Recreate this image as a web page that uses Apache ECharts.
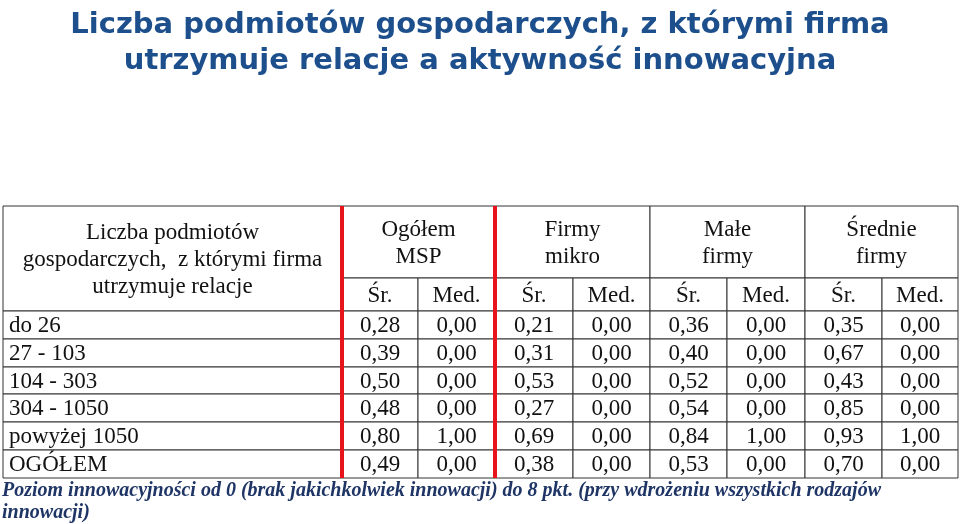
<!DOCTYPE html>
<html>
<head>
<meta charset="utf-8">
<script src="https://cdn.jsdelivr.net/npm/echarts@6/dist/echarts.min.js"></script>
<style>html,body{margin:0;padding:0;background:#fff}#chart{width:960px;height:524px}</style>
</head>
<body>
<div id="chart"></div>
<script>
// table content
var rowLabels = ['do 26', '27 - 103', '104 - 303', '304 - 1050', 'powyżej 1050', 'OGÓŁEM'];
var groups = ['Ogółem\nMSP', 'Firmy\nmikro', 'Małe\nfirmy', 'Średnie\nfirmy'];
var subHeads = ['Śr.', 'Med.'];
var mspSr = [0.28, 0.39, 0.50, 0.48, 0.80, 0.49];
var mspMed = [0.00, 0.00, 0.00, 0.00, 1.00, 0.00];
var mikroSr = [0.21, 0.31, 0.53, 0.27, 0.69, 0.38];
var mikroMed = [0.00, 0.00, 0.00, 0.00, 0.00, 0.00];
var maleSr = [0.36, 0.40, 0.52, 0.54, 0.84, 0.53];
var maleMed = [0.00, 0.00, 0.00, 0.00, 1.00, 0.00];
var srednieSr = [0.35, 0.67, 0.43, 0.85, 0.93, 0.70];
var srednieMed = [0.00, 0.00, 0.00, 0.00, 1.00, 0.00];
var cornerLabel = 'Liczba podmiotów\ngospodarczych,  z którymi firma\nutrzymuje relacje';

// layout: column edges and row edges in table units
var colEdges = [0, 339, 415, 492, 570, 647, 724, 802, 879, 955];
var rowEdges = [0, 72, 105, 133, 161, 188, 216, 244, 272];

var columns = [mspSr, mspMed, mikroSr, mikroMed, maleSr, maleMed, srednieSr, srednieMed];
function fmt(v) { return v.toFixed(2).replace('.', ','); }

var cells = [];
cells.push([colEdges[0], colEdges[1], rowEdges[0], rowEdges[2], cornerLabel, 'center', 23]);
groups.forEach(function (g, i) {
  cells.push([colEdges[1 + 2 * i], colEdges[3 + 2 * i], rowEdges[0], rowEdges[1], g, 'center', 23]);
  subHeads.forEach(function (s, j) {
    cells.push([colEdges[1 + 2 * i + j], colEdges[2 + 2 * i + j], rowEdges[1], rowEdges[2], s, 'center', 23]);
  });
});
rowLabels.forEach(function (r, ri) {
  cells.push([colEdges[0], colEdges[1], rowEdges[2 + ri], rowEdges[3 + ri], r, 'left', 23]);
  columns.forEach(function (col, ci) {
    cells.push([colEdges[1 + ci], colEdges[2 + ci], rowEdges[2 + ri], rowEdges[3 + ri], fmt(col[ri]), 'center', 23]);
  });
});

var chart = echarts.init(document.getElementById('chart'));
chart.setOption({
  animation: false,
  title: {
    text: 'Liczba podmiotów gospodarczych, z którymi firma\nutrzymuje relacje a aktywność innowacyjna',
    left: 'center', top: 2,
    textStyle: { fontFamily: 'DejaVu Sans', fontWeight: 'bold', fontSize: 29, lineHeight: 36, color: '#1d4f8c', align: 'center' }
  },
  grid: { left: 3, right: 2, top: 206, bottom: 46 },
  xAxis: { type: 'value', min: 0, max: 955, show: false },
  yAxis: { type: 'value', min: 0, max: 272, inverse: true, show: false },
  graphic: [{
    type: 'text', left: 2, top: 480,
    style: {
      text: 'Poziom innowacyjności od 0 (brak jakichkolwiek innowacji) do 8 pkt. (przy wdrożeniu wszystkich rodzajów\ninnowacji)',
      font: 'italic bold 20px "Liberation Serif"', fill: '#1f3566', lineHeight: 22
    }
  }],
  series: [{
    type: 'custom',
    coordinateSystem: 'cartesian2d',
    data: cells,
    encode: { x: [0, 1], y: [2, 3] },
    renderItem: function (params, api) {
      var p0 = api.coord([api.value(0), api.value(2)]);
      var p1 = api.coord([api.value(1), api.value(3)]);
      var align = cells[params.dataIndex][5];
      var size = cells[params.dataIndex][6];
      return {
        type: 'group',
        children: [{
          type: 'rect',
          shape: { x: p0[0], y: p0[1], width: p1[0] - p0[0], height: p1[1] - p0[1] },
          style: { fill: '#fff', stroke: '#333', lineWidth: 1 }
        }, {
          type: 'text',
          style: {
            text: cells[params.dataIndex][4],
            x: align === 'left' ? p0[0] + 6 : (p0[0] + p1[0]) / 2,
            y: (p0[1] + p1[1]) / 2 + 1,
            align: align, verticalAlign: 'middle',
            font: size + 'px "Liberation Serif"', fill: '#111', lineHeight: 27
          }
        }]
      };
    }
  }, {
    type: 'custom',
    coordinateSystem: 'cartesian2d',
    data: [[colEdges[1]], [colEdges[3]]],
    renderItem: function (params, api) {
      var a = api.coord([api.value(0), 0]);
      var b = api.coord([api.value(0), 272]);
      return { type: 'line', shape: { x1: a[0], y1: a[1], x2: b[0], y2: b[1] }, style: { stroke: '#e8141b', lineWidth: 4 } };
    }
  }]
});
</script>
</body>
</html>
